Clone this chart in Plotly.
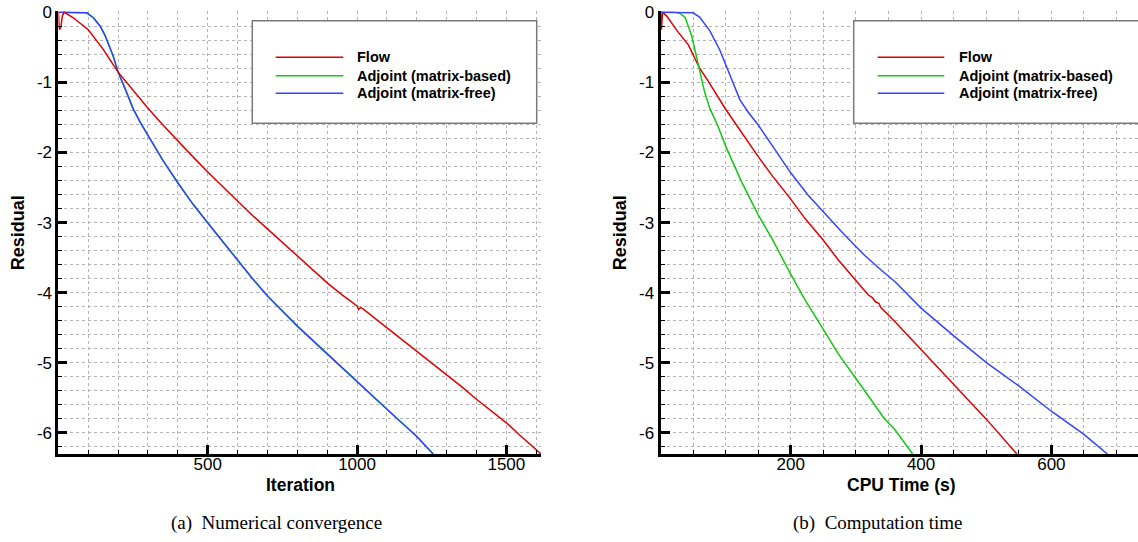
import plotly.graph_objects as go

# ---------------- data ----------------
# (a) Numerical convergence : residual vs iteration
flow_iter = [0, 3, 8, 13, 19, 50, 100, 150, 200, 250, 300, 350, 400, 450, 500, 550, 600,
             650, 700, 750, 800, 850, 900, 950, 1000, 1005, 1012, 1020, 1050, 1100, 1150,
             1200, 1250, 1300, 1350, 1400, 1450, 1500, 1550, 1616]
flow_res_iter = [0.0, -0.25, -0.22, -0.06, 0.0, -0.08, -0.25, -0.53, -0.855, -1.12, -1.37,
                 -1.61, -1.84, -2.06, -2.28, -2.49, -2.70, -2.90, -3.09, -3.28, -3.48, -3.67,
                 -3.86, -4.03, -4.19, -4.24, -4.21, -4.23, -4.33, -4.50, -4.67, -4.84, -5.00,
                 -5.17, -5.34, -5.52, -5.69, -5.855, -6.05, -6.3]

adj_iter = [0, 80, 95, 117, 140, 156, 170, 183, 200, 215, 228, 250, 275, 303, 351, 401, 451,
            501, 550, 601, 650, 701, 740, 801, 902, 1000, 1102, 1200, 1255]
adj_mb_res_iter = [0.0, 0.0, -0.01, -0.08, -0.2, -0.33, -0.47, -0.62, -0.855, -1.0, -1.14,
                   -1.375, -1.58, -1.78, -2.12, -2.44, -2.74, -3.01, -3.27, -3.54, -3.80,
                   -4.05, -4.22, -4.48, -4.88, -5.27, -5.67, -6.05, -6.3]
adj_mf_res_iter = [0.0, 0.0, -0.01, -0.08, -0.2, -0.33, -0.47, -0.62, -0.855, -1.0, -1.14,
                   -1.375, -1.58, -1.78, -2.12, -2.44, -2.74, -3.01, -3.27, -3.54, -3.80,
                   -4.05, -4.22, -4.48, -4.88, -5.27, -5.67, -6.05, -6.3]

# (b) Computation time : residual vs CPU time (s)
flow_time = [0, 1.5, 3, 10, 25, 43, 60, 73, 99, 124.5, 150, 170.5, 199, 221.6, 249.7, 272.7,
             299.8, 318.7, 325, 330, 335, 339, 359.7, 400, 450.6, 500.8, 547]
flow_res_time = [0.0, -0.25, 0.0, -0.06, -0.26, -0.47, -0.80, -0.98, -1.37, -1.72, -2.06,
                 -2.32, -2.655, -2.94, -3.25, -3.53, -3.82, -4.03, -4.07, -4.13, -4.15,
                 -4.22, -4.41, -4.81, -5.31, -5.81, -6.3]

adj_mb_time = [0, 22, 30, 38, 48, 58, 68, 76, 88, 100, 124.5, 150, 170.5, 199, 221.6, 249.7,
               272.7, 299.8, 324, 344, 359.7, 387]
adj_mb_res_time = [0.0, 0.0, -0.02, -0.08, -0.34, -0.74, -1.15, -1.38, -1.62, -1.91, -2.42,
                   -2.89, -3.22, -3.72, -4.10, -4.52, -4.87, -5.22, -5.53, -5.80, -5.95, -6.3]

adj_mf_time = [0, 40, 50, 60, 76, 91, 100, 112, 122, 135, 150, 175, 199, 226.7, 249.7, 278,
               299.8, 313.6, 339, 359.7, 400, 450.6, 500.8, 550, 600, 650, 686]
adj_mf_res_time = [0.0, 0.0, -0.01, -0.07, -0.27, -0.54, -0.74, -1.03, -1.25, -1.43, -1.61,
                   -1.95, -2.28, -2.61, -2.845, -3.13, -3.34, -3.47, -3.68, -3.84, -4.22,
                   -4.62, -5.00, -5.33, -5.69, -6.02, -6.3]

series_names = ["Flow", "Adjoint (matrix-based)", "Adjoint (matrix-free)"]
series_colors = ["#e00000", "#12c812", "#3344ff"]

y_tickvals = [0, -1, -2, -3, -4, -5, -6]
y_ticktext = ["0", "-1", "-2", "-3", "-4", "-5", "-6"]
x1_tickvals = [500, 1000, 1500]
x2_tickvals = [200, 400, 600]

# ---------------- figure ----------------
W, H = 1138, 542
fig = go.Figure()

def add(x, y, color, xa, ya, name):
    fig.add_trace(go.Scatter(x=x, y=y, mode="lines", name=name, showlegend=False,
                             line=dict(color=color, width=1.5),
                             xaxis=xa, yaxis=ya))

add(adj_iter, adj_mb_res_iter, series_colors[1], "x", "y", series_names[1])
add(adj_iter, adj_mf_res_iter, series_colors[2], "x", "y", series_names[2])
add(flow_iter, flow_res_iter, series_colors[0], "x", "y", series_names[0])

add(flow_time, flow_res_time, series_colors[0], "x2", "y2", series_names[0])
add(adj_mb_time, adj_mb_res_time, series_colors[1], "x2", "y2", series_names[1])
add(adj_mf_time, adj_mf_res_time, series_colors[2], "x2", "y2", series_names[2])

SANS = "Liberation Sans, Arial, sans-serif"
SERIF = "Liberation Serif, Times New Roman, serif"
GRID = "#b4b4b4"

def fx(x):  # pixel -> paper fraction
    return x / W

def fy(y):
    return 1 - y / H

def xaxis(domain, rng, tickvals, minor_dtick, anchor):
    return dict(domain=domain, range=rng, anchor=anchor,
                tickmode="array", tickvals=tickvals, ticktext=[str(v) for v in tickvals],
                ticks="inside", ticklen=9, tickwidth=2.5, tickcolor="black",
                showline=True, linewidth=3, linecolor="black",
                showgrid=True, gridcolor=GRID, griddash="dot", gridwidth=1,
                zeroline=False, ticklabelstandoff=-7,
                minor=dict(tickmode="linear", tick0=0, dtick=minor_dtick, ticks="inside",
                           ticklen=4, tickwidth=1, tickcolor="black",
                           showgrid=True, gridcolor=GRID, griddash="dot", gridwidth=1),
                tickfont=dict(family=SANS, size=17, color="black"))

def yaxis(domain, anchor):
    return dict(domain=domain, range=[-6.3, 0.012], anchor=anchor,
                tickmode="array", tickvals=y_tickvals, ticktext=y_ticktext,
                ticks="inside", ticklen=9, tickwidth=2.5, tickcolor="black",
                showline=True, linewidth=3, linecolor="black",
                showgrid=True, gridcolor=GRID, griddash="dot", gridwidth=1,
                zeroline=False, ticklabeloverflow="allow",
                minor=dict(tickmode="linear", tick0=0, dtick=0.2, ticks="inside",
                           ticklen=4, tickwidth=1, tickcolor="black",
                           showgrid=True, gridcolor=GRID, griddash="dot", gridwidth=1),
                tickfont=dict(family=SANS, size=17, color="black"),
                title=dict(text="Residual", standoff=8,
                           font=dict(family=SANS, size=18, color="black", weight="bold")))

ydom = [fy(454), fy(11.3)]
fig.update_layout(
    width=W, height=H, margin=dict(l=0, r=0, t=0, b=0, autoexpand=False),
    paper_bgcolor="white", plot_bgcolor="white", showlegend=False,
    xaxis=xaxis([fx(58.4), fx(541)], [0, 1616], x1_tickvals, 100, "y"),
    yaxis=yaxis(ydom, "x"),
    xaxis2=xaxis([fx(660.5), 1.0], [0, 733], x2_tickvals, 50, "y2"),
    yaxis2=yaxis(ydom, "x2"),
)

shapes = []
annotations = []
# legend boxes drawn by hand (Tecplot-style)
for (bx0, bx1, lx0, lx1, tx) in [(252.3, 536.7, 275.7, 343.3, 355.0),
                                  (853.7, 1150.0, 877.7, 944.3, 956.7)]:
    shapes.append(dict(type="rect", xref="paper", yref="paper",
                       x0=fx(bx0), x1=fx(bx1), y0=fy(123.3), y1=fy(20.7),
                       line=dict(color="#7a7a7a", width=1.5), fillcolor="white", layer="above"))
    for name, color, ry in zip(series_names, series_colors, [57.3, 75.7, 93.3]):
        shapes.append(dict(type="line", xref="paper", yref="paper",
                           x0=fx(lx0), x1=fx(lx1), y0=fy(ry), y1=fy(ry),
                           line=dict(color=color, width=1.5), layer="above"))
        annotations.append(dict(xref="paper", yref="paper", x=fx(tx), y=fy(ry),
                                xanchor="left", yanchor="middle", showarrow=False,
                                text=name,
                                font=dict(family=SANS, size=14.5, color="black", weight="bold")))

# x-axis titles
annotations.append(dict(xref="paper", yref="paper", x=fx(300.5), y=fy(485),
                        xanchor="center", yanchor="middle", showarrow=False,
                        text="Iteration",
                        font=dict(family=SANS, size=17.5, color="black", weight="bold")))
annotations.append(dict(xref="paper", yref="paper", x=fx(901), y=fy(485),
                        xanchor="center", yanchor="middle", showarrow=False,
                        text="CPU Time (s)",
                        font=dict(family=SANS, size=17.5, color="black", weight="bold")))

# sub-figure captions
annotations.append(dict(xref="paper", yref="paper", x=fx(276), y=fy(523),
                        xanchor="center", yanchor="middle", showarrow=False,
                        text="(a)\u00a0 Numerical convergence",
                        font=dict(family=SERIF, size=19, color="black")))
annotations.append(dict(xref="paper", yref="paper", x=fx(877), y=fy(523),
                        xanchor="center", yanchor="middle", showarrow=False,
                        text="(b)\u00a0 Computation time",
                        font=dict(family=SERIF, size=19, color="black")))

fig.update_layout(shapes=shapes, annotations=annotations)
fig.write_html("out.html", config={"displayModeBar": False},
               post_script="document.body.style.margin='0';document.body.style.overflow='hidden';")
